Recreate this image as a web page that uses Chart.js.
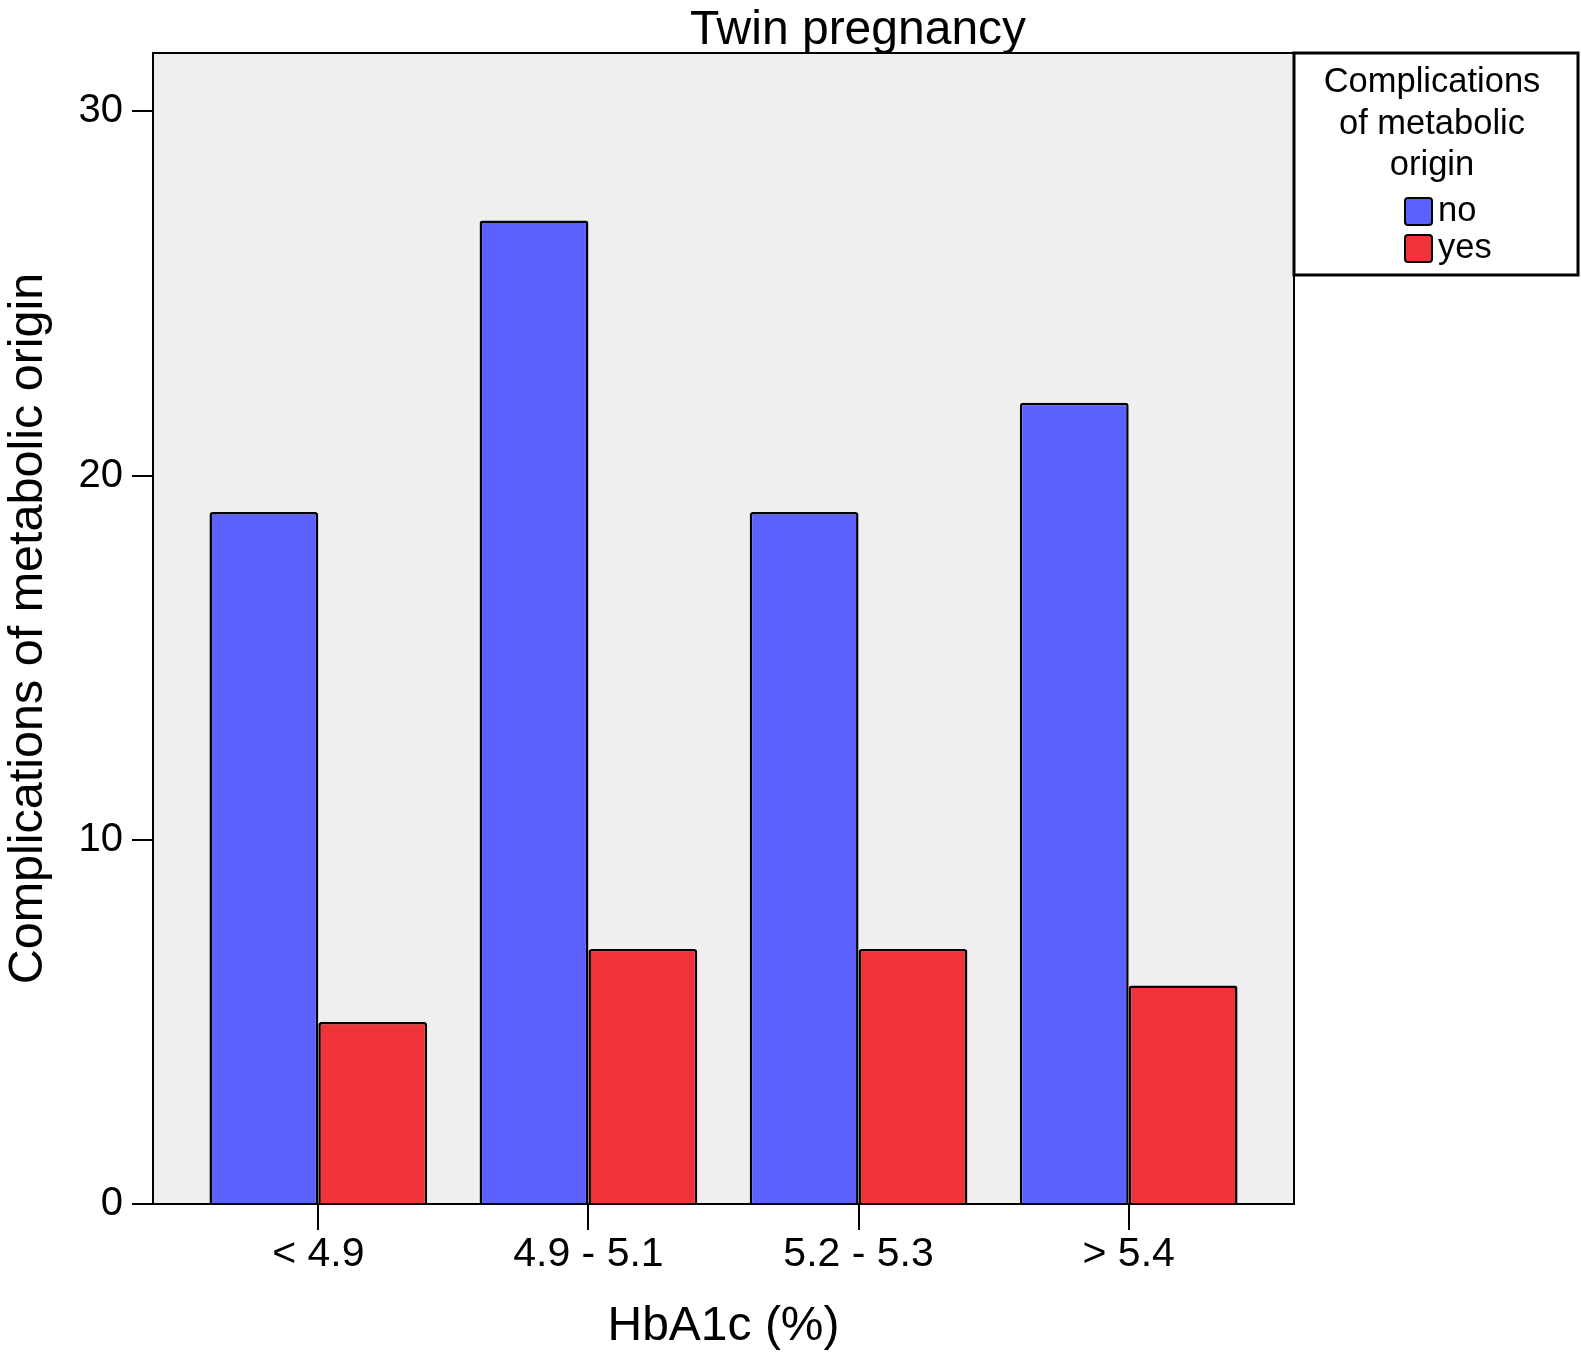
<!DOCTYPE html>
<html>
<head>
<meta charset="utf-8">
<script src="https://cdn.jsdelivr.net/npm/chart.js@4/dist/chart.umd.min.js"></script>
<style>
  html, body { margin: 0; padding: 0; background: #fff; }
</style>
</head>
<body>
<canvas id="hbChart" width="1581" height="1356"></canvas>
<script>
// values
const categories = ['< 4.9', '4.9 - 5.1', '5.2 - 5.3', '> 5.4'];
const seriesNames = ['no', 'yes'];
const noValues = [19, 27, 19, 22];
const yesValues = [5, 7, 7, 6];
const yTicks = [0, 10, 20, 30];
const chartTitle = 'Twin pregnancy';
const xTitle = 'HbA1c (%)';
const yTitle = 'Complications of metabolic origin';
const legendTitle = ['Complications', 'of metabolic', 'origin'];

const FONT = '"Liberation Sans", Arial, Helvetica, sans-serif';
Chart.defaults.font.family = FONT;
Chart.defaults.color = '#000';

// grey plot area, frame, title and the boxed legend (SPSS look)
const spssLook = {
    id: 'spssLook',
    beforeDraw(chart) {
        const { ctx, chartArea: a } = chart;
        ctx.save();
        ctx.fillStyle = '#fff';
        ctx.fillRect(0, 0, chart.width, chart.height);
        ctx.fillStyle = '#efefef';
        ctx.fillRect(a.left, a.top, a.right - a.left, a.bottom - a.top);
        ctx.restore();
    },
    afterDraw(chart) {
        const { ctx, chartArea: a } = chart;
        ctx.save();
        ctx.strokeStyle = '#000';
        ctx.lineWidth = 2;
        ctx.beginPath();
        ctx.moveTo(a.left, a.top);
        ctx.lineTo(a.right, a.top);
        ctx.lineTo(a.right, a.bottom);
        ctx.stroke();

        // title
        ctx.fillStyle = '#000';
        ctx.font = '48px ' + FONT;
        ctx.textAlign = 'center';
        ctx.textBaseline = 'alphabetic';
        ctx.fillText(chartTitle, 858, 44);

        // legend box
        const lx = a.right, ly = a.top, lw = 284, lh = 222;
        ctx.fillStyle = '#fff';
        ctx.fillRect(lx, ly, lw, lh);
        ctx.lineWidth = 3;
        ctx.strokeRect(lx, ly, lw, lh);

        ctx.fillStyle = '#000';
        ctx.font = '34.5px ' + FONT;
        const lineY = [39, 81, 122];
        legendTitle.forEach((t, i) => ctx.fillText(t, lx + 138, ly + lineY[i]));

        const items = chart.data.datasets;
        items.forEach((ds, i) => {
            const sy = ly + 145 + i * 37;
            ctx.beginPath();
            ctx.roundRect(lx + 111, sy, 27, 27, 3);
            ctx.fillStyle = ds.backgroundColor;
            ctx.fill();
            ctx.lineWidth = 2;
            ctx.strokeStyle = '#000';
            ctx.stroke();
            ctx.fillStyle = '#000';
            ctx.textAlign = 'left';
            ctx.fillText(ds.label, lx + 144, sy + 23);
        });
        ctx.restore();
    }
};

new Chart(document.getElementById('hbChart'), {
    type: 'bar',
    data: {
        datasets: [
            {
                label: seriesNames[0],
                data: noValues.map((v, i) => ({ x: i + 1, y: v })),
                backgroundColor: '#5c61fe',
            },
            {
                label: seriesNames[1],
                data: yesValues.map((v, i) => ({ x: i + 1, y: v })),
                backgroundColor: '#f03239',
            }
        ]
    },
    options: {
        responsive: false,
        devicePixelRatio: 1,
        animation: false,
        layout: { padding: { top: 53, right: 287, left: 0, bottom: 0 } },
        datasets: {
            bar: {
                categoryPercentage: 0.806,
                barPercentage: 1,
                borderWidth: 2.5,
                borderColor: '#000',
                borderRadius: 3,
            }
        },
        plugins: {
            legend: { display: false },
            title: { display: false },
            tooltip: { enabled: false }
        },
        scales: {
            x: {
                type: 'linear',
                offset: false,
                min: 0.388,
                max: 4.612,
                afterBuildTicks: s => { s.ticks = categories.map((c, i) => ({ value: i + 1 })); },
                afterFit: s => { s.height = 152; },
                ticks: {
                    callback: v => categories[v - 1],
                    font: { size: 41 },
                    color: '#000',
                    padding: 0,
                    autoSkip: false,
                    maxRotation: 0,
                    minRotation: 0
                },
                grid: { offset: false, drawOnChartArea: false, drawTicks: true, tickLength: 26, color: '#000', lineWidth: 2 },
                border: { display: true, color: '#000', width: 2 },
                title: { display: true, text: xTitle, font: { size: 48 }, color: '#000', padding: { top: 0, bottom: 0 } }
            },
            y: {
                min: 0,
                max: 31.6,
                afterBuildTicks: s => { s.ticks = yTicks.map(v => ({ value: v })); },
                afterFit: s => { s.width = 153; },
                ticks: { font: { size: 40 }, color: '#000', padding: 9 },
                grid: { drawOnChartArea: false, drawTicks: true, tickLength: 21, color: '#000', lineWidth: 2 },
                border: { display: true, color: '#000', width: 2 },
                title: { display: true, text: yTitle, font: { size: 48.5 }, color: '#000', padding: { top: 0, bottom: 0 } }
            }
        }
    },
    plugins: [spssLook]
});
</script>
</body>
</html>
